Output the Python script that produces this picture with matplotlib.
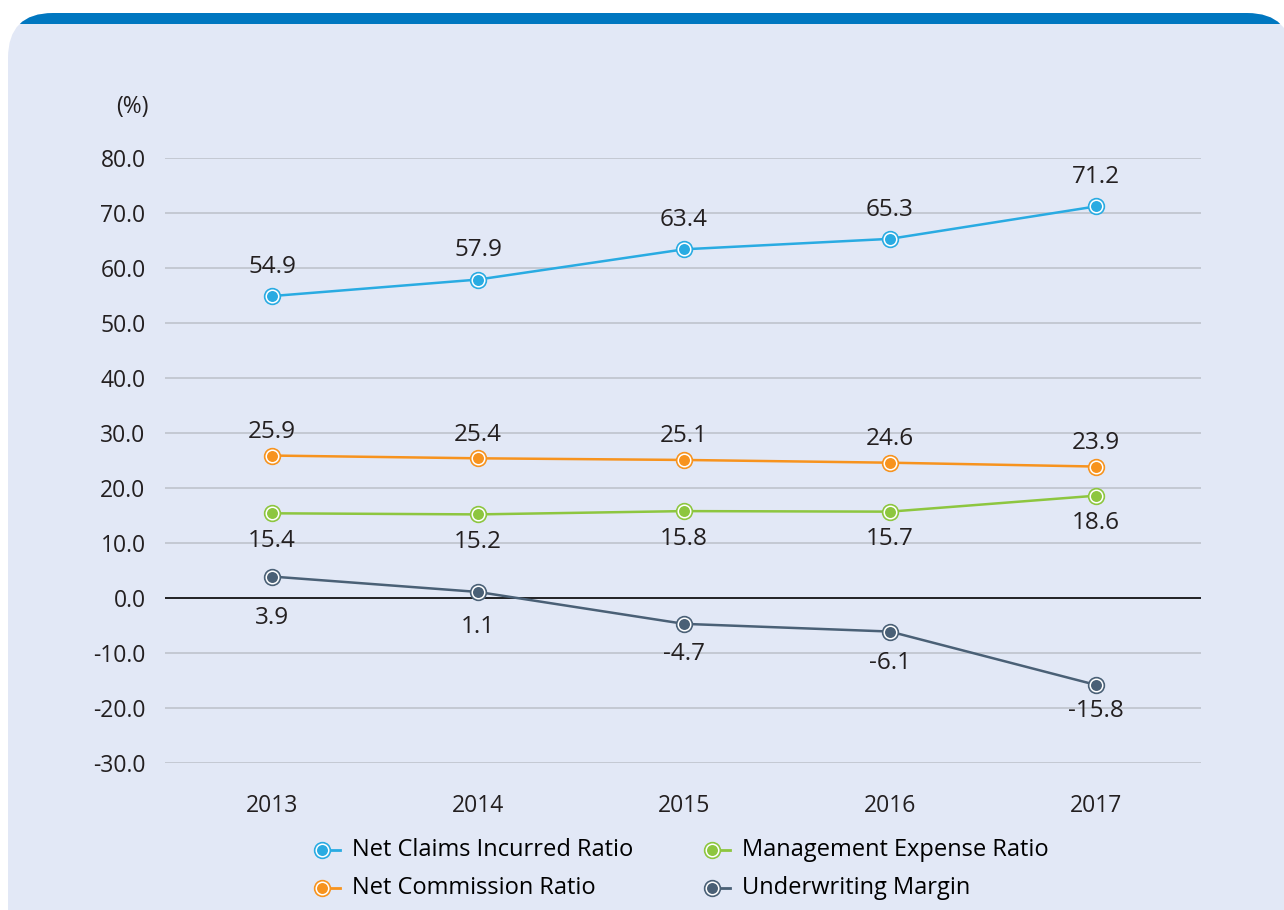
import numpy as np
import matplotlib
matplotlib.use("Agg")
import matplotlib.pyplot as plt
from matplotlib.patches import FancyBboxPatch, Rectangle
from matplotlib.lines import Line2D
from matplotlib.transforms import IdentityTransform

plt.rcParams['font.family'] = ['Open Sans', 'DejaVu Sans']

years = ['2013', '2014', '2015', '2016', '2017']
net_claims = [54.9, 57.9, 63.4, 65.3, 71.2]
net_commission = [25.9, 25.4, 25.1, 24.6, 23.9]
mgmt_expense = [15.4, 15.2, 15.8, 15.7, 18.6]
uw_margin = [3.9, 1.1, -4.7, -6.1, -15.8]
yticks = [80, 70, 60, 50, 40, 30, 20, 10, 0, -10, -20, -30]

series = [
    ('Net Claims Incurred Ratio', net_claims, '#29ABE2', [21, 21, 21, 21, 21]),
    ('Net Commission Ratio', net_commission, '#F7931E', [17, 17, 17, 17, 17]),
    ('Management Expense Ratio', mgmt_expense, '#8DC63F', [-20, -20, -20, -20, -20]),
    ('Underwriting Margin', uw_margin, '#4A6076', [-30, -25, -22, -23, -19]),
]
txt = '#231F20'
bg = '#E2E8F6'

W, H = 1284, 910
fig = plt.figure(figsize=(W / 100, H / 100), dpi=100)
fig.patch.set_facecolor('white')

# rounded panel with blue top band
panel = FancyBboxPatch((8, -60), 1284, H - 13 + 60, boxstyle='round,pad=0,rounding_size=45',
                       transform=IdentityTransform(), facecolor=bg, edgecolor='none', zorder=-3)
fig.patches.append(panel)
band = FancyBboxPatch((8, -60), 1284, H - 13 + 60, boxstyle='round,pad=0,rounding_size=45',
                      transform=IdentityTransform(), facecolor='#0077C0', edgecolor='none', zorder=-2)
clip = Rectangle((0, H - 24), W, 11, transform=IdentityTransform())
band.set_clip_path(clip)
fig.patches.append(band)

ax = fig.add_axes([165 / W, 147 / H, (1201 - 165) / W, (763 - 158) / H])
ax.set_facecolor('none')
x = np.arange(len(years))

for name, vals, col, offs in series:
    ax.plot(x, vals, color=col, lw=1.8, zorder=3, solid_capstyle='butt')
    ax.plot(x, vals, 'o', ms=11.5, mfc=col, mec=col, zorder=4)
    ax.plot(x, vals, 'o', ms=9, mfc=col, mec='white', mew=1.1, zorder=5)
    for xi, v, o in zip(x, vals, offs):
        ax.annotate(f'{v:.1f}', (xi, v), xytext=(0, o), textcoords='offset points',
                    ha='center', va='center', fontsize=17.5, color=txt)

ax.set_xlim(-0.52, 4.51)
ax.set_ylim(-30, 80)
ax.set_yticks(yticks)
ax.set_yticklabels([f'{t:.1f}' for t in yticks])
ax.set_xticks(x)
ax.set_xticklabels(years)
for t in yticks:
    ax.axhline(t, color='black' if t == 0 else '#BFC3CC', lw=1.2, zorder=1)
for s in ax.spines.values():
    s.set_visible(False)
ax.tick_params(length=0, labelsize=16.5, colors=txt)
ax.tick_params(axis='y', pad=14)
ax.tick_params(axis='x', pad=22)

fig.text(132 / W, 1 - 107 / H, '(%)', ha='center', va='center', fontsize=16.5, color=txt)

# legend
leg_pos = [(322, 850), (322, 888), (712, 850), (712, 888)]
for (name, vals, col, offs), (lx, ly) in zip(series, leg_pos):
    fx, fy = lx / W, 1 - ly / H
    fig.add_artist(Line2D([fx, fx + 18 / W], [fy, fy], color=col, lw=2, transform=fig.transFigure))
    fig.add_artist(Line2D([fx], [fy], marker='o', ms=11.5, mfc=col, mec=col, transform=fig.transFigure))
    fig.add_artist(Line2D([fx], [fy], marker='o', ms=9, mfc=col, mec='white', mew=1.1,
                          transform=fig.transFigure))
    fig.text((lx + 30) / W, fy, name, ha='left', va='center', fontsize=17, color='black')

fig.savefig('out.png', dpi=100, facecolor='white')
